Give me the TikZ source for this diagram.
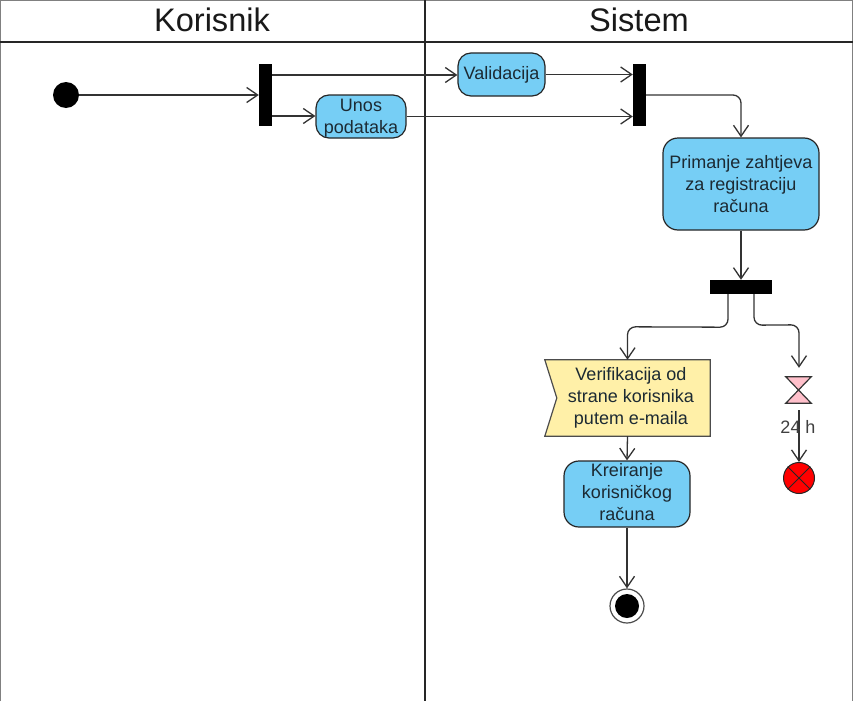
\documentclass[tikz,border=0pt]{standalone}
\usepackage{fontspec}
\setmainfont{Liberation Sans}
\usetikzlibrary{arrows.meta,calc}
\definecolor{actblue}{HTML}{76CEF5}
\definecolor{sigyellow}{HTML}{FFF0A8}
\definecolor{hgpink}{HTML}{FFC0CB}
\definecolor{txt}{HTML}{1C2A33}
\tikzset{
  flow/.style={draw=black!80,line width=1.3pt,-{Straight Barb[length=11pt,width=15pt,line width=1.3pt]},rounded corners=8pt},
  act/.style={draw=black!85,line width=1.2pt,fill=actblue,rounded corners=#1,inner sep=0pt,align=center,font=\fontsize{18}{22}\selectfont,text=txt},
  bar/.style={draw=none,fill=black,inner sep=0pt},
  lane/.style={draw=black!85,line width=2.4pt},
  title/.style={inner sep=0pt,font=\fontsize{32.6}{36}\selectfont,text=black!90},
  lbl/.style={inner sep=0pt,align=center,font=\fontsize{18}{22}\selectfont,text=txt},
}
\begin{document}
\begin{tikzpicture}[x=1pt,y=-1pt]
\useasboundingbox (0,0) rectangle (853,701);
\fill[white] (0,0) rectangle (853,701);
% frame and lanes
\draw[black!50,line width=1pt] (0.5,701) -- (0.5,0.5) -- (852.5,0.5) -- (852.5,701);
\coordinate (hl) at (0,42);
\coordinate (hr) at (853,42);
\coordinate (vt) at (425,0);
\coordinate (vb) at (425,701);
\draw[lane] (hl) -- (hr);
\draw[lane] (vt) -- (vb);
\node[title] (korisnik) at (212,20) {Korisnik};
\node[title] (sistem) at (639,20) {Sistem};
% nodes
\node[circle,fill=black,inner sep=0pt,minimum size=26pt] (start) at (66,95) {};
\node[bar,minimum width=13pt,minimum height=62pt] (b1) at (265.5,95) {};
\node[bar,minimum width=13pt,minimum height=62pt] (b2) at (639.5,95) {};
\node[act=13pt,minimum width=87pt,minimum height=43pt] (val) at (501.5,74.5) {Validacija};
\node[act=13pt,minimum width=90pt,minimum height=43pt] (unos) at (361,116.5) {};
\node[lbl] (unost) at (361,118) {Unos\\podataka};
\node[act=15pt,minimum width=156pt,minimum height=92pt] (prim) at (741,184) {Primanje zahtjeva\\za registraciju\\računa};
\node[bar,minimum width=62pt,minimum height=14pt] (b3) at (741,287) {};
\node[minimum width=165pt,minimum height=76pt,inner sep=0pt] (flag) at (627.5,398) {};
\draw[black!70,line width=1.2pt,fill=sigyellow] (flag.north west) -- (flag.north east) -- (flag.south east) -- (flag.south west) -- ($(flag.west)+(12,0)$) -- cycle;
\node[lbl] (flagt) at (631,397.5) {Verifikacija od\\strane korisnika\\putem e-maila};
\node[act=15pt,minimum width=126pt,minimum height=66pt] (krei) at (627,494) {};
\node[lbl] (kreit) at (627,492.5) {Kreiranje\\korisničkog\\računa};
\node[circle,draw=black!70,line width=1.2pt,fill=white,inner sep=0pt,minimum size=34pt] (end) at (627,606) {};
\node[circle,fill=black,inner sep=0pt,minimum size=24pt] (endin) at (end.center) {};
\node[minimum width=25pt,minimum height=26pt,inner sep=0pt] (hg) at (798.5,390) {};
\draw[black!80,line width=1.2pt,fill=hgpink] (hg.north west) -- (hg.north east) -- (hg.south west) -- (hg.south east) -- cycle;
\node[circle,draw=black!85,line width=1pt,fill=red,inner sep=0pt,minimum size=31pt] (ff) at (799,478) {};
\draw[black!85,line width=1pt] (ff.45) -- (ff.225) (ff.135) -- (ff.315);
% connector ends
\coordinate (b1a) at ($(b1.east)+(0,-20)$);
\coordinate (b1b) at ($(b1.east)+(0,21)$);
\coordinate (b2a) at ($(b2.west)+(0,-20.5)$);
\coordinate (b2b) at ($(b2.west)+(0,21.5)$);
\coordinate (b3a) at ($(b3.south)+(-13,0)$);
\coordinate (b3b) at ($(b3.south)+(13,0)$);
\coordinate (hgin) at ($(hg.north)+(0.5,-9)$);
\coordinate (hgout) at ($(hg.south)+(0.5,7)$);
% connectors
\draw[flow] (start) -- (b1.west);
\draw[flow] (b1a) -- (val.west |- b1a);
\draw[flow] (b1b) -- (unos.west |- b1b);
\draw[flow] (val.east) -- (b2a);
\draw[flow] (unos.east) -- (b2b);
\draw[flow] (b2.east) -- (prim.north |- b2.east) -- (prim.north);
\draw[flow] (prim.south) -- (b3.north);
\draw[flow] (b3a) -- ($(b3a)+(0,33)$) -- ($(flag.north)+(0,-33)$) -- (flag.north);
\draw[flow] (b3b) -- ($(b3b)+(0,31)$) -- ($(hgin)+(0,-43)$) -- (hgin);
\draw[flow] (flag.south) -- (krei.north);
\draw[flow] (krei.south) -- (end.north);
\draw[flow] (hgout) -- (ff.north);
\node[lbl,text=black!75] (h24) at (798,427) {24 h};
\end{tikzpicture}
\end{document}
